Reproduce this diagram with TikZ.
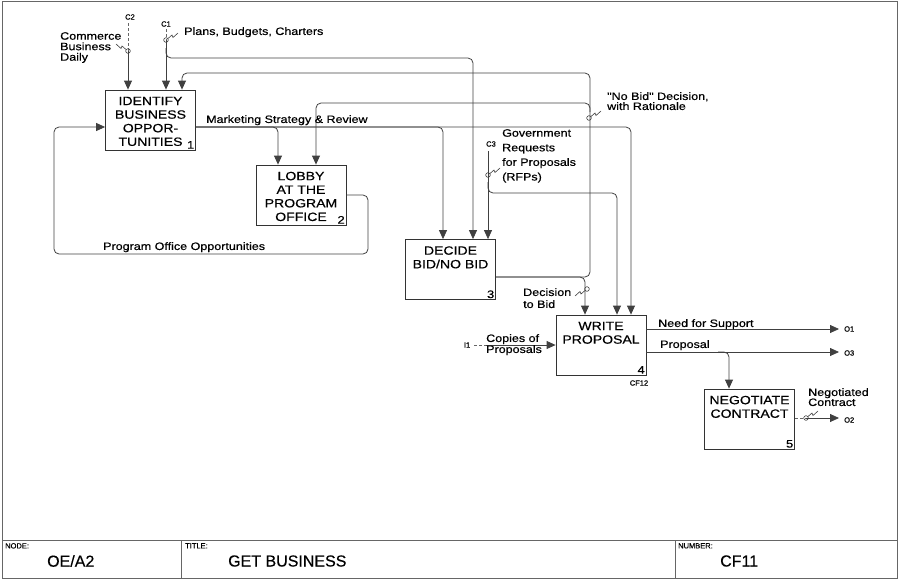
\documentclass[tikz,border=0pt]{standalone}
\usepackage{fontspec}
\setmainfont[FakeBold=0.4]{Liberation Sans}
\newfontfamily\wide[FakeStretch=1.17,FakeBold=0.5]{Liberation Sans}
\usetikzlibrary{positioning,arrows.meta,calc}
\tikzset{
    % Activity boxes
    func/.style={rectangle, draw=black!80, line width=.8pt, minimum width=90pt,
                 minimum height=60pt, inner sep=0pt},
    func text/.style={anchor=north, align=center, inner sep=0pt, yshift=-7pt,
                      font=\wide\fontsize{12}{13.6}\selectfont},
    func num/.style={anchor=south east, inner sep=1.5pt, font=\wide\fontsize{11}{12}\selectfont},
    % Arrow styles
    flow/.style={draw=black!75, line width=.8pt, -{Triangle[length=9pt,width=8pt]},
                 rounded corners=5pt},
    stub/.style={draw=black!60, line width=.7pt, densely dashed},
    % Annotation styles
    lbl/.style={anchor=north west, inner sep=0pt, align=left,
                font=\wide\fontsize{10.7}{11}\selectfont},
    icom/.style={inner sep=0pt, font=\fontsize{7.5}{8}\selectfont},
    frame text/.style={anchor=north west, inner sep=0pt, font=\fontsize{7.5}{8}\selectfont},
    frame value/.style={anchor=west, inner sep=0pt, font=\fontsize{16}{18}\selectfont},
    squig/.pic={\draw[black!75, line width=.6pt] (0,0) circle (2.3pt)
                (2,-1.5) -- (6,-5) -- (7,-2.5) -- (12,-7);},
}

\begin{document}
\begin{tikzpicture}[x=1pt, y=-1pt]
    \useasboundingbox (0,0) rectangle (900,579);

    % Sheet frame
    \draw[black!60, line width=.6pt] (2,1.5) rectangle (897.5,578);
    \draw[black!60, line width=.6pt] (2,540) -- (897.5,540)
        (181,540) -- (181,578) (675,540) -- (675,578);

    % Activities
    \node[func] (b1) at (150.5,120) {};
    \node[func text] at (b1.north) {IDENTIFY\\BUSINESS\\OPPOR-\\TUNITIES};
    \node[func num] at (b1.south east) {1};

    \node[func] (b2) at (301,195) {};
    \node[func text] at (b2.north) {LOBBY\\AT THE\\PROGRAM\\OFFICE};
    \node[func num] at (b2.south east) {2};

    \node[func] (b3) at (450.5,269.5) {};
    \node[func text] at (b3.north) {DECIDE\\BID/NO BID};
    \node[func num] at (b3.south east) {3};

    \node[func] (b4) at (601,345) {};
    \node[func text] at (b4.north) {WRITE\\PROPOSAL};
    \node[func num] at (b4.south east) {4};

    \node[func] (b5) at (749.5,419) {};
    \node[func text] at (b5.north) {NEGOTIATE\\CONTRACT};
    \node[func num] at (b5.south east) {5};

    % Boundary arrows
    \coordinate (c2) at (128,23);
    \coordinate (c1) at (166,29);
    \coordinate (c3) at (488,151);
    \coordinate (i1) at (474,345);
    \coordinate (o1) at (839,329);
    \coordinate (o3) at (839,352);
    \coordinate (o2) at (839,418);

    % Controls
    \draw[stub] (c2) -- (128,51);
    \draw[flow] (128,51) -- (b1.north -| c2);
    \draw[stub] (c1) -- (166,40);
    \draw[flow] (166,40) -- (b1.north -| c1);
    \draw[flow] (166,48) |- (473,58) -- (b3.north -| 473,0);
    \draw[flow] (c3) -- (b3.north -| c3);
    \draw[flow] (488,182) |- (617,193) -- (b4.north -| 617,0);

    % Input
    \draw[stub] (i1) -- (486,345);
    \draw[flow] (486,345) -- (b4.west);

    % Marketing Strategy & Review
    \draw[flow] (b1.east |- 0,127) -| (b2.north -| 278,0);
    \draw[flow] (b1.east |- 0,127) -| (b3.north -| 443,0);
    \draw[flow] (b1.east |- 0,127) -| (b4.north -| 631,0);

    % Program Office Opportunities
    \draw[flow] (b2.east |- 0,195) -| (368,254) -| (54,127) -- (b1.west |- 0,127);

    % Bid decisions
    \draw[flow] (b3.east |- 0,277) -| (590,73) -| (b1.north -| 182,0);
    \draw[flow] (590,112) |- (316,103) -- (b2.north -| 316,0);
    \draw[flow] (b3.east |- 0,277) -| (b4.north -| 585,0);

    % Outputs
    \draw[flow] (b4.east |- 0,329) -- (o1);
    \draw[flow] (b4.east |- 0,352) -- (o3);
    \draw[flow] (718,352) -| (b5.north -| 729,0);
    \draw[stub] (b5.east |- 0,418) -- (806,418);
    \draw[flow] (806,418) -- (o2);

    % Squiggles
    \pic[xscale=-1] at (128,51) {squig};
    \pic at (166,40) {squig};
    \pic at (589,118) {squig};
    \pic at (488,175) {squig};
    \pic[scale=-1] at (587,289) {squig};
    \pic at (806,418) {squig};

    % ICOM codes
    \node[icom] at (130,17) {C2};
    \node[icom] at (166,24) {C1};
    \node[icom] at (491,144) {C3};
    \node[icom] at (467,345) {I1};
    \node[icom, anchor=west] at (844,329) {O1};
    \node[icom, anchor=west] at (844,353) {O3};
    \node[icom, anchor=west] at (844,420) {O2};
    \node[icom] at (639,383) {CF12};

    % Arrow labels
    \node[lbl, font=\wide\fontsize{10.7}{10.5}\selectfont] at (60,32) {Commerce\\Business\\Daily};
    \node[lbl] at (184,27) {Plans, Budgets, Charters};
    \node[lbl] at (206,115) {Marketing Strategy \& Review};
    \node[lbl, font=\wide\fontsize{10.7}{10}\selectfont] at (607,92) {"No Bid" Decision,\\with Rationale};
    \node[lbl, font=\wide\fontsize{10.7}{14.6}\selectfont] at (502,129) {Government\\Requests\\for Proposals\\(RFPs)};
    \node[lbl] at (103,242) {Program Office Opportunities};
    \node[lbl, font=\wide\fontsize{10.7}{12}\selectfont] at (523,288) {Decision\\to Bid};
    \node[lbl] at (486,334) {Copies of\\Proposals};
    \node[lbl] at (658,319) {Need for Support};
    \node[lbl] at (660,340) {Proposal};
    \node[lbl, font=\wide\fontsize{10.7}{10}\selectfont] at (808,388) {Negotiated\\Contract};

    % Title block
    \node[frame text] at (5,543) {NODE:};
    \node[frame value] at (47,561) {OE/A2};
    \node[frame text] at (185,543) {TITLE:};
    \node[frame value] at (228,561) {GET BUSINESS};
    \node[frame text] at (678,543) {NUMBER:};
    \node[frame value] at (720,561) {CF11};
\end{tikzpicture}
\end{document}
